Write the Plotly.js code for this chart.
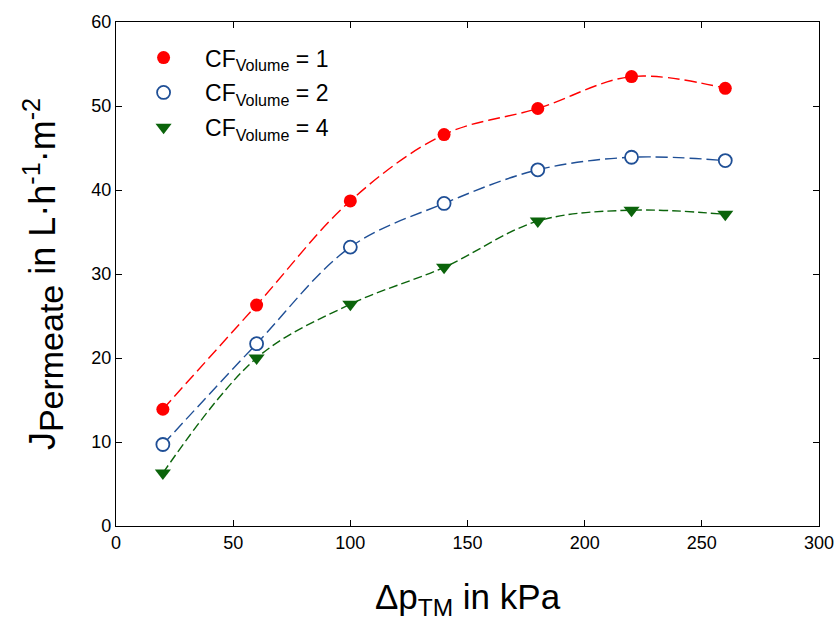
<!DOCTYPE html>
<html>
<head>
<meta charset="utf-8">
<script src="https://cdn.plot.ly/plotly-3.0.1.min.js"></script>
<style>html,body{margin:0;padding:0;background:#fff;}#chart{width:838px;height:630px;}</style>
</head>
<body>
<div id="chart"></div>
<script>
const pressure = [20, 60, 100, 140, 180, 220, 260];
const flux_cf1 = [13.9, 26.3, 38.7, 46.6, 49.7, 53.5, 52.1];
const flux_cf2 = [9.7, 21.7, 33.2, 38.4, 42.4, 43.9, 43.5];
const flux_cf4 = [6.3, 20.0, 26.4, 30.8, 36.3, 37.6, 37.1];
const seriesNames = ['\u2002CF<sub>Volume</sub> = 1', '\u2002CF<sub>Volume</sub> = 2', '\u2002CF<sub>Volume</sub> = 4'];

const FONT = '"Liberation Sans", Arial, sans-serif';
const series = [
  {y: flux_cf1, color: '#ff0000', sym: 'circle', fill: '#ff0000', size: 13, dash: '12px,5px'},
  {y: flux_cf2, color: '#1f4f96', sym: 'circle-open', fill: '#ffffff', size: 13, dash: '12px,5px'},
  {y: flux_cf4, color: '#0b640b', sym: 'triangle-down', fill: '#0b640b', size: 14, dash: '9px,4px'}
];
const traces = [];
series.forEach((s, i) => {
  traces.push({x: pressure, y: s.y, mode: 'lines', showlegend: false, hoverinfo: 'skip',
    line: {color: s.color, width: 1.4, dash: s.dash, shape: 'spline', smoothing: 1}});
});
series.forEach((s, i) => {
  traces.push({x: pressure, y: s.y, mode: 'markers', name: seriesNames[i], legendgroup: 'g' + i,
    marker: {symbol: s.sym === 'circle-open' ? 'circle' : s.sym, size: s.size,
      color: s.fill, line: {color: s.color, width: s.sym === 'circle-open' ? 1.8 : 0}}});
});

const layout = {
  width: 838, height: 630,
  margin: {l: 116, r: 19, t: 22, b: 104},
  paper_bgcolor: '#fff', plot_bgcolor: '#fff',
  font: {family: FONT, color: '#000'},
  showlegend: true,
  legend: {x: 0.025, y: 0.972, xanchor: 'left', yanchor: 'top', bgcolor: 'rgba(0,0,0,0)',
    font: {size: 23, family: FONT}, itemwidth: 50, tracegroupgap: 2},
  xaxis: {range: [0, 300], tickvals: [0, 50, 100, 150, 200, 250, 300], showgrid: false, zeroline: false,
    showline: true, linecolor: '#000', linewidth: 1.2, mirror: 'ticks', ticks: 'inside', ticklen: 6, tickcolor: '#000',
    tickfont: {size: 18, family: FONT},
    title: {text: 'Δp<sub>TM</sub> in kPa', font: {size: 35, family: FONT}, standoff: 32}},
  yaxis: {range: [0, 60], tickvals: [0, 10, 20, 30, 40, 50, 60], showgrid: false, zeroline: false,
    showline: true, linecolor: '#000', linewidth: 1.2, mirror: 'ticks', ticks: 'inside', ticklen: 6, tickcolor: '#000',
    tickfont: {size: 18, family: FONT},
    title: {text: 'J<sub><span style="font-size:34px">Permeate</span></sub> in L·h<sup>-1</sup>·m<sup>-2</sup>', font: {size: 36, family: FONT}, standoff: 24}}
};
Plotly.newPlot('chart', traces, layout, {displayModeBar: false, staticPlot: true});
</script>
</body>
</html>
